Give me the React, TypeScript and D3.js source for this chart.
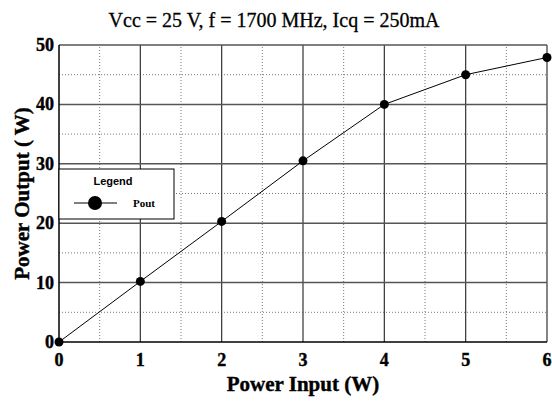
import { useRef, useEffect } from "react";
import * as d3 from "d3";

const inputW = [0, 1, 2, 3, 4, 5, 6];
const outputW = [0, 10.2, 20.3, 30.5, 40, 45, 47.9];
const xTicks = [0, 1, 2, 3, 4, 5, 6];
const yTicks = [0, 10, 20, 30, 40, 50];
const title = "Vcc = 25 V, f = 1700 MHz, Icq = 250mA";

const App = () => {
  const svgRef = useRef<SVGSVGElement>(null);

  useEffect(() => {
    const w = 552;
    const h = 401;
    const m = { left: 59, right: 5, top: 45, bottom: 59 };
    const svg = d3.select(svgRef.current);
    svg.selectAll("*").remove();
    svg.attr("width", w).attr("height", h);

    const x = d3.scaleLinear().domain([0, 6]).range([m.left, w - m.right]);
    const y = d3.scaleLinear().domain([0, 50]).range([h - m.bottom, m.top]);
    const serif = "'Liberation Serif', 'Times New Roman', serif";

    svg.append("rect").attr("width", w).attr("height", h).attr("fill", "#fff");

    // minor dotted grid
    const minorX = d3.range(0.5, 6, 1);
    const minorY = d3.range(5, 50, 10);
    svg.selectAll(".mx").data(minorX).join("line")
      .attr("x1", (d) => x(d)).attr("x2", (d) => x(d))
      .attr("y1", y(0)).attr("y2", y(50))
      .attr("stroke", "#777").attr("stroke-width", 1).attr("stroke-dasharray", "1,2");
    svg.selectAll(".my").data(minorY).join("line")
      .attr("y1", (d) => y(d)).attr("y2", (d) => y(d))
      .attr("x1", x(0)).attr("x2", x(6))
      .attr("stroke", "#777").attr("stroke-width", 1).attr("stroke-dasharray", "1,2");

    // major grid
    svg.selectAll(".gx").data(xTicks.slice(1)).join("line")
      .attr("x1", (d) => x(d)).attr("x2", (d) => x(d))
      .attr("y1", y(0)).attr("y2", y(50))
      .attr("stroke", "#333").attr("stroke-width", 1.2);
    svg.selectAll(".gy").data(yTicks.slice(1)).join("line")
      .attr("y1", (d) => y(d)).attr("y2", (d) => y(d))
      .attr("x1", x(0)).attr("x2", x(6))
      .attr("stroke", "#555").attr("stroke-width", 1.5);

    // axes lines
    svg.append("line").attr("x1", x(0)).attr("x2", x(0)).attr("y1", y(0)).attr("y2", y(50))
      .attr("stroke", "#000").attr("stroke-width", 1.5);
    svg.append("line").attr("x1", x(0)).attr("x2", x(6)).attr("y1", y(0)).attr("y2", y(0))
      .attr("stroke", "#000").attr("stroke-width", 1.5);

    // tick labels
    svg.selectAll(".xt").data(xTicks).join("text")
      .attr("x", (d) => x(d)).attr("y", y(0) + 24)
      .attr("text-anchor", "middle")
      .style("font-family", serif).style("font-weight", "bold").style("font-size", "18px")
      .style("stroke", "#000").style("stroke-width", 0.4)
      .text((d) => d);
    svg.selectAll(".yt").data(yTicks).join("text")
      .attr("x", x(0) - 5).attr("y", (d) => y(d) + 6)
      .attr("text-anchor", "end")
      .style("font-family", serif).style("font-weight", "bold").style("font-size", "18px")
      .style("stroke", "#000").style("stroke-width", 0.4)
      .text((d) => d);

    // data line
    const pts = inputW.map((v, i) => [v, outputW[i]] as [number, number]);
    const line = d3.line<[number, number]>().x((d) => x(d[0])).y((d) => y(d[1]));
    svg.append("path").attr("d", line(pts)).attr("fill", "none")
      .attr("stroke", "#000").attr("stroke-width", 1);
    svg.selectAll(".pt").data(pts).join("circle")
      .attr("cx", (d) => x(d[0])).attr("cy", (d) => y(d[1])).attr("r", 4.5)
      .attr("fill", "#000");

    // title and axis titles
    svg.append("text").attr("x", 274).attr("y", 27).attr("text-anchor", "middle")
      .style("font-family", serif).style("font-size", "20px")
      .style("stroke", "#000").style("stroke-width", 0.3)
      .text(title);
    svg.append("text").attr("x", 303).attr("y", 391).attr("text-anchor", "middle")
      .style("font-family", serif).style("font-weight", "bold").style("font-size", "21px")
      .style("stroke", "#000").style("stroke-width", 0.4)
      .text("Power Input (W)");
    svg.append("text").attr("transform", `translate(29, ${(y(0) + y(50)) / 2}) rotate(-90)`)
      .attr("text-anchor", "middle")
      .style("font-family", serif).style("font-weight", "bold").style("font-size", "21px")
      .style("stroke", "#000").style("stroke-width", 0.4)
      .text("Power Output ( W)");

    // legend
    const lg = svg.append("g");
    lg.append("rect").attr("x", 59).attr("y", 169).attr("width", 115).attr("height", 50)
      .attr("fill", "#fff").attr("stroke", "#000").attr("stroke-width", 1);
    lg.append("text").attr("x", 113).attr("y", 185).attr("text-anchor", "middle")
      .style("font-family", "'Liberation Sans', Arial, sans-serif").style("font-weight", "bold")
      .style("font-size", "11px").text("Legend");
    lg.append("line").attr("x1", 74).attr("x2", 117).attr("y1", 203).attr("y2", 203)
      .attr("stroke", "#000").attr("stroke-width", 1);
    lg.append("circle").attr("cx", 95).attr("cy", 203).attr("r", 7).attr("fill", "#000");
    lg.append("text").attr("x", 133).attr("y", 207)
      .style("font-family", serif).style("font-weight", "bold").style("font-size", "11px")
      .text("Pout");
  }, []);

  return (
    <div style={{ position: "absolute", left: 0, top: 0 }}>
      <svg ref={svgRef}></svg>
    </div>
  );
};

export default App;
